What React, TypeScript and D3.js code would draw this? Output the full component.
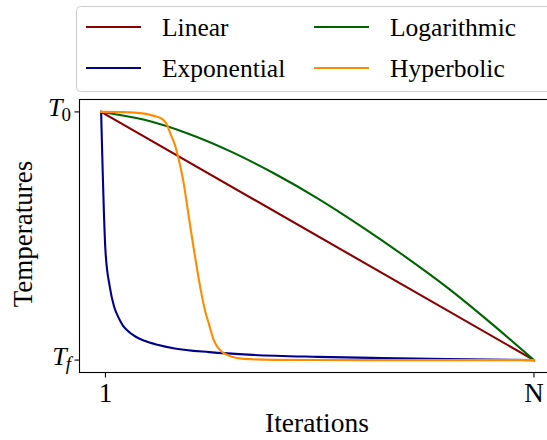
import React, { useEffect, useRef } from 'react';
import * as d3 from 'd3';

// Normalised temperature: 1 = T0, 0 = Tf. Iterations run 0..100 (N = 100).
const linearIter = [0, 100];
const linearTemp = [1, 0];

const expIter = [0, 1, 2, 3, 4, 5, 6, 8, 10, 13, 17, 25, 35, 50, 65, 80, 100];
const expTemp = [1, 0.44, 0.295, 0.215, 0.172, 0.14, 0.12, 0.094, 0.078, 0.062, 0.047, 0.032, 0.021, 0.013, 0.008, 0.004, 0];

const logIter = [0, 10, 20, 30, 40, 50, 60, 70, 80, 90, 100];
const logTemp = [1, 0.968, 0.913, 0.84, 0.752, 0.652, 0.54, 0.42, 0.292, 0.15, 0];

const hypIter = [0, 5, 10, 12, 14, 15, 16, 17, 18, 19, 20, 21, 22, 23, 24, 25, 26, 27, 28, 30, 33, 40, 60, 100];
const hypTemp = [1, 0.999, 0.993, 0.985, 0.973, 0.955, 0.913, 0.869, 0.803, 0.72, 0.607, 0.493, 0.384, 0.284, 0.2, 0.14, 0.081, 0.05, 0.032, 0.014, 0.005, 0.001, 0, 0];

const seriesNames = ['Linear', 'Exponential', 'Logarithmic', 'Hyperbolic'];
const seriesColors = ['#8b0000', '#00008b', '#006400', '#ff8c00'];

const xTickValues = [1, 100];
const xTickLabels = ['1', 'N'];
const yTickValues = [1, 0];
const yTickSubs = ['0', 'f'];

const W = 547;
const H = 440;
const FONT = "Liberation Serif, DejaVu Serif, serif";

const App = () => {
    const ref = useRef<SVGSVGElement>(null);

    useEffect(() => {
        const svg = d3.select(ref.current);
        svg.selectAll('*').remove();

        // axes box (right side runs off the picture)
        const left = 79.5, top = 99.5, right = 555.6, bottom = 372.5;

        const x = d3.scaleLinear().domain([-5, 105]).range([left, right]);
        const y = d3.scaleLinear().domain([-0.05, 1.05]).range([bottom, top]);

        const series = [
            { iter: linearIter, temp: linearTemp },
            { iter: expIter, temp: expTemp },
            { iter: logIter, temp: logTemp },
            { iter: hypIter, temp: hypTemp },
        ];

        const line = d3.line<[number, number]>()
            .x(d => x(d[0]))
            .y(d => y(d[1]))
            .curve(d3.curveMonotoneX);

        series.forEach((s, i) => {
            const pts: [number, number][] = s.iter.map((v, j) => [v, s.temp[j]]);
            svg.append('path')
                .attr('d', line(pts))
                .attr('fill', 'none')
                .attr('stroke', seriesColors[i])
                .attr('stroke-width', 2.1)
                .attr('stroke-linejoin', 'round')
                .attr('stroke-linecap', 'square');
        });

        // spines
        svg.append('rect')
            .attr('x', left).attr('y', top)
            .attr('width', right - left).attr('height', bottom - top)
            .attr('fill', 'none').attr('stroke', '#000').attr('stroke-width', 1.1);

        // x ticks
        xTickValues.forEach((v, i) => {
            svg.append('line')
                .attr('x1', x(v)).attr('x2', x(v))
                .attr('y1', bottom).attr('y2', bottom + 5)
                .attr('stroke', '#000').attr('stroke-width', 1.1);
            svg.append('text')
                .attr('x', x(v)).attr('y', 401.5)
                .attr('text-anchor', 'middle')
                .attr('font-family', FONT).attr('font-size', 27)
                .text(xTickLabels[i]);
        });

        // y ticks
        yTickValues.forEach((v, i) => {
            svg.append('line')
                .attr('x1', left - 5).attr('x2', left)
                .attr('y1', y(v)).attr('y2', y(v))
                .attr('stroke', '#000').attr('stroke-width', 1.1);
            const t = svg.append('text')
                .attr('x', 71).attr('y', y(v) + 4.5)
                .attr('text-anchor', 'end')
                .attr('font-family', FONT).attr('font-size', 26);
            t.append('tspan').attr('font-style', 'italic').text('T');
            t.append('tspan')
                .attr('dy', 5).attr('dx', -1)
                .attr('font-size', 19)
                .attr('font-style', i === 1 ? 'italic' : 'normal')
                .text(yTickSubs[i]);
        });

        // axis labels
        svg.append('text')
            .attr('x', 317).attr('y', 432)
            .attr('text-anchor', 'middle')
            .attr('font-family', FONT).attr('font-size', 27.5)
            .text('Iterations');
        svg.append('text')
            .attr('transform', 'translate(32,234) rotate(-90)')
            .attr('text-anchor', 'middle')
            .attr('font-family', FONT).attr('font-size', 27)
            .text('Temperatures');

        // legend
        const lg = svg.append('g');
        lg.append('rect')
            .attr('x', 76.5).attr('y', 6.5)
            .attr('width', 490).attr('height', 85)
            .attr('rx', 4)
            .attr('fill', '#fff').attr('fill-opacity', 0.8)
            .attr('stroke', '#cccccc').attr('stroke-width', 1);

        const cols = [86, 314];
        const rows = [27, 68];
        seriesNames.forEach((name, i) => {
            const cx = cols[Math.floor(i / 2)];
            const cy = rows[i % 2];
            lg.append('line')
                .attr('x1', cx).attr('x2', cx + 55)
                .attr('y1', cy).attr('y2', cy)
                .attr('stroke', seriesColors[i]).attr('stroke-width', 2.1);
            lg.append('text')
                .attr('x', cx + 76).attr('y', cy + 9)
                .attr('font-family', FONT).attr('font-size', 25.5)
                .text(name);
        });
    }, []);

    return (
        <svg ref={ref} width={W} height={H}
            style={{ position: 'absolute', left: 0, top: 0, background: '#fff' }} />
    );
};

export default App;
